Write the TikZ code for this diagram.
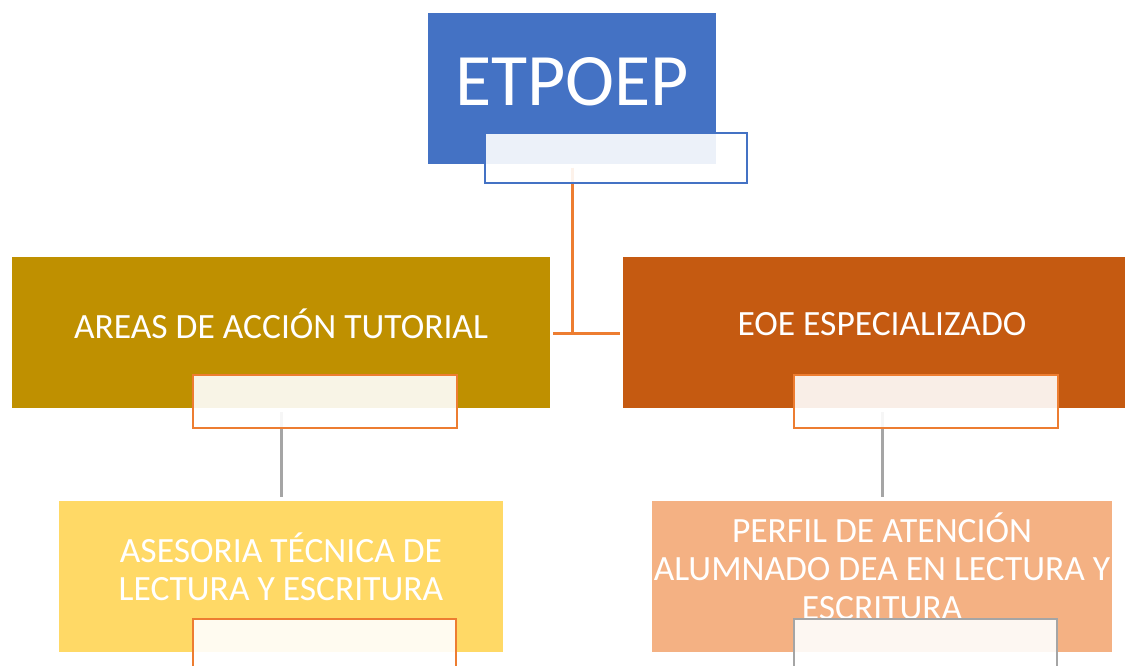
\documentclass[tikz,border=0pt]{standalone}
\usepackage{fontspec}
\setmainfont{Carlito}
\definecolor{cblue}{HTML}{4472C4}
\definecolor{cgold}{HTML}{BF9000}
\definecolor{crust}{HTML}{C55A11}
\definecolor{cyel}{HTML}{FFD966}
\definecolor{cpeach}{HTML}{F4B183}
\definecolor{corange}{HTML}{ED7D31}
\definecolor{cgray}{HTML}{A5A5A5}
\tikzset{
  box/.style={draw=none, inner sep=0pt, outer sep=0pt},
  over/.style={draw, line width=2pt, fill=white, fill opacity=0.9, draw opacity=1, inner sep=0pt, outer sep=0pt},
  lbl/.style={text=white, align=center, inner sep=0pt, font=\fontsize{35.5}{38.5}\selectfont},
  conn/.style={line width=3pt, draw=corange},
  gconn/.style={line width=3pt, draw=cgray}
}
\begin{document}
\begin{tikzpicture}[x=1pt,y=-1pt]
\clip (0,0) rectangle (1125,666);
\fill[white] (0,0) rectangle (1125,666);
% boxes
\node[box, fill=cblue, minimum width=288pt, minimum height=151pt] (etp) at (572,88.5) {};
\node[box, fill=cgold, minimum width=538pt, minimum height=151pt] (areas) at (281,332.5) {};
\node[box, fill=crust, minimum width=502pt, minimum height=151pt] (eoe) at (874,332.5) {};
\node[box, fill=cyel, minimum width=444pt, minimum height=151pt] (ases) at (281,576.5) {};
\node[box, fill=cpeach, minimum width=460pt, minimum height=151pt] (perf) at (882,576.5) {};
% texts
\node[lbl, font=\fontsize{74}{80}\selectfont] (tetp) at (572,82) {ETPOEP};
\node[lbl] (tareas) at (281,324) {AREAS DE ACCIÓN TUTORIAL};
\node[lbl] (teoe) at (882,324) {EOE ESPECIALIZADO};
\node[lbl] (tases) at (281,567) {ASESORIA TÉCNICA DE\\LECTURA Y ESCRITURA};
\node[lbl] (tperf) at (882,566) {PERFIL DE ATENCIÓN\\ALUMNADO DEA EN LECTURA Y\\ESCRITURA};
% connectors
\coordinate (hub) at (572,333);
\coordinate (hl) at (553,333);
\coordinate (hr) at (620,333);
\draw[conn] ([yshift=-4pt]etp.south) -- (hub);
\draw[conn] (hl) -- (hr);
\draw[gconn] ([yshift=-4pt]areas.south) -- ([yshift=4pt]ases.north);
\draw[gconn] ([yshift=-4pt]eoe.south -| perf.north) -- ([yshift=4pt]perf.north);
% overlays
\node[over, draw=cblue, minimum width=262pt, minimum height=50pt] (oetp) at (616,158) {};
\node[over, draw=corange, minimum width=264pt, minimum height=53pt] (oareas) at (325,401.5) {};
\node[over, draw=corange, minimum width=264pt, minimum height=53pt] (oeoe) at (925.5,401.5) {};
\node[over, draw=corange, minimum width=263pt, minimum height=100pt] (oases) at (324.5,669) {};
\node[over, draw=cgray, minimum width=263pt, minimum height=100pt] (operf) at (925.5,669) {};
\end{tikzpicture}
\end{document}
